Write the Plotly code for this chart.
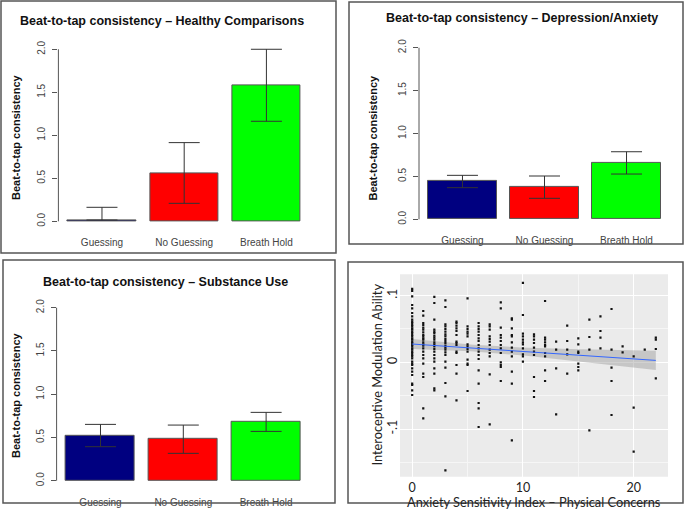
import numpy as np
import plotly.graph_objects as go

# ---------------- data ----------------
conditions = ["Guessing", "No Guessing", "Breath Hold"]
bar_colors = ["#000080", "#FF0000", "#00FF00"]

hc_mean = [0.015, 0.558, 1.581]
hc_err_plus = [0.148, 0.357, 0.419]
hc_err_minus = [0.0, 0.349, 0.418]

da_mean = [0.447, 0.373, 0.656]
da_err_plus = [0.066, 0.132, 0.132]
da_err_minus = [0.078, 0.128, 0.128]

su_mean = [0.520, 0.489, 0.682]
su_err_plus = [0.131, 0.154, 0.108]
su_err_minus = [0.127, 0.173, 0.112]

bar_y_ticks = [0.0, 0.5, 1.0, 1.5, 2.0]
bar_y_ticktext = ["0.0", "0.5", "1.0", "1.5", "2.0"]

asi_levels = list(range(23))
ima_by_level = [
    [0.11, 0.107, 0.099, 0.086, 0.081, 0.074, 0.069, 0.064, 0.061, 0.059, 0.056, 0.054, 0.051, 0.049,
     0.046, 0.044, 0.041, 0.039, 0.036, 0.034, 0.031, 0.029, 0.026, 0.024, 0.021, 0.019, 0.016, 0.014,
     0.011, 0.009, 0.006, 0.001, -0.002, -0.004, -0.009, -0.014, -0.019, -0.032, -0.034, -0.042, -0.049],
    [0.077, 0.07, 0.059, 0.056, 0.052, 0.049, 0.045, 0.041, 0.039, 0.036, 0.034, 0.03, 0.027, 0.025,
     0.021, 0.016, 0.011, 0.006, -0.002, -0.017, -0.022, -0.069, -0.084],
    [0.098, 0.089, 0.064, 0.049, 0.046, 0.044, 0.04, 0.037, 0.034, 0.03, 0.027, 0.024, 0.02, 0.016,
     0.011, 0.006, 0.001, -0.009, -0.017, -0.039, -0.042],
    [0.093, 0.083, 0.057, 0.054, 0.05, 0.046, 0.042, 0.039, 0.035, 0.032, 0.029, 0.025, 0.022, 0.019,
     0.015, 0.011, 0.001, -0.008, -0.031, -0.051, -0.162],
    [0.061, 0.059, 0.055, 0.051, 0.047, 0.041, 0.031, 0.029, 0.026, 0.016, 0.014, -0.004, -0.017, -0.057],
    [0.096, 0.054, 0.05, 0.046, 0.043, 0.039, 0.027, 0.024, 0.02, 0.016, 0.004, -0.002, -0.004, -0.043],
    [0.059, 0.054, 0.05, 0.046, 0.041, 0.036, 0.032, 0.026, 0.021, 0.016, 0.011, 0.005, -0.012, -0.032,
     -0.061, -0.069, -0.097],
    [0.057, 0.054, 0.049, 0.039, 0.035, 0.031, 0.026, 0.019, 0.014, 0.009, -0.018, -0.093],
    [0.09, 0.081, 0.052, 0.041, 0.037, 0.032, 0.026, 0.021, 0.014, 0.0, -0.004, -0.007, -0.028],
    [0.066, 0.064, 0.051, 0.041, 0.039, 0.03, 0.022, 0.016, 0.009, -0.014, -0.032, -0.117],
    [0.119, 0.071, 0.043, 0.039, 0.034, 0.03, 0.027, 0.021, 0.012, 0.009, 0.001],
    [0.042, 0.039, 0.034, 0.029, 0.022, 0.016, 0.011, -0.022, -0.043, -0.052],
    [0.092, 0.037, 0.034, 0.03, 0.026, 0.024, 0.014, 0.009, -0.012, -0.028],
    [0.031, 0.019, -0.009, -0.078],
    [0.055, 0.032, 0.019, 0.012, -0.017],
    [0.036, 0.027, 0.016, 0.014, -0.002, -0.007, -0.012],
    [0.064, 0.038, 0.019, -0.102],
    [0.069, 0.047, 0.037, 0.021],
    [0.08, 0.019, -0.008, -0.028, -0.079],
    [0.024, 0.015],
    [0.009, -0.068, -0.134],
    [0.019],
    [0.037, 0.034, 0.02, -0.024],
]
scatter_ticks_y = [-0.1, 0.0, 0.1]
scatter_ticktext_y = ["-.1", "0", ".1"]
scatter_ticks_x = [0, 10, 20]

# ---------------- helpers ----------------
W, H = 685, 514
def px_x(p):
    return p / W
def px_y(p):
    return 1 - p / H

bar_font = "Liberation Sans, Arial, sans-serif"
gg_font = "Lato, Open Sans, sans-serif"
bar_pos = [0.7, 1.9, 3.1]

fig = go.Figure()

panels = [
    dict(mean=hc_mean, ep=hc_err_plus, em=hc_err_minus, xa="x", ya="y",
         xd=[px_x(58.4), px_x(310)], yd=[px_y(228.2), px_y(42.4)],
         title="Beat-to-tap consistency \u2013 Healthy Comparisons", tx=162, ty=21.5, ytx=16, yty=137),
    dict(mean=da_mean, ep=da_err_plus, em=da_err_minus, xa="x2", ya="y2",
         xd=[px_x(419), px_x(670)], yd=[px_y(226.2), px_y(40.9)],
         title="Beat-to-tap consistency \u2013 Depression/Anxiety", tx=522, ty=18.5, ytx=372.5, yty=137),
    dict(mean=su_mean, ep=su_err_plus, em=su_err_minus, xa="x3", ya="y3",
         xd=[px_x(56.6), px_x(310)], yd=[px_y(487.6), px_y(300.8)],
         title="Beat-to-tap consistency \u2013 Substance Use", tx=165, ty=281.5, ytx=16, yty=395),
]

annotations = []
shapes = []
layout_axes = {}

for i, p in enumerate(panels):
    fig.add_trace(go.Bar(
        x=bar_pos, y=p["mean"], width=1.0,
        marker=dict(color=bar_colors, line=dict(color="#555555", width=1)),
        error_y=dict(type="data", array=p["ep"], arrayminus=p["em"], symmetric=False,
                     color="#333333", thickness=1, width=15.5),
        xaxis=p["xa"], yaxis=p["ya"], showlegend=False, hoverinfo="skip",
    ))
    xname = "xaxis" if p["xa"] == "x" else "xaxis" + p["xa"][1:]
    yname = "yaxis" if p["ya"] == "y" else "yaxis" + p["ya"][1:]
    layout_axes[xname] = dict(
        domain=p["xd"], range=[0.064, 3.736], anchor=p["ya"], automargin=False,
        tickmode="array", tickvals=bar_pos, ticktext=conditions,
        showgrid=False, zeroline=False, showline=False, ticks="",
        tickfont=dict(family=bar_font, size=10, color="#444444"),
        ticklabelstandoff=7, fixedrange=True,
    )
    layout_axes[yname] = dict(
        domain=p["yd"], range=[-0.08, 2.08], anchor=p["xa"], automargin=False,
        tickmode="array", tickvals=bar_y_ticks, ticktext=bar_y_ticktext,
        tickangle=-90, ticks="outside", ticklen=5, tickcolor="#555555", tickwidth=1,
        showgrid=False, zeroline=False, showline=False,
        tickfont=dict(family=bar_font, size=10, color="#444444"),
        ticklabelstandoff=3, fixedrange=True,
    )
    shapes.append(dict(type="line", xref=p["xa"] + " domain", yref=p["ya"],
                       x0=0, x1=0, y0=bar_y_ticks[0], y1=bar_y_ticks[-1],
                       line=dict(color="#555555", width=1)))
    annotations.append(dict(text="<b>" + p["title"] + "</b>", x=px_x(p["tx"]), y=px_y(p["ty"]),
                            xref="paper", yref="paper", showarrow=False,
                            xanchor="center", yanchor="middle",
                            font=dict(family=bar_font, size=12.5, color="#111111")))
    annotations.append(dict(text="<b>Beat-to-tap consistency</b>", x=px_x(p["ytx"]), y=px_y(p["yty"]),
                            xref="paper", yref="paper", showarrow=False, textangle=-90,
                            xanchor="center", yanchor="middle",
                            font=dict(family=bar_font, size=11, color="#111111")))

# ---------------- scatter panel ----------------
sx = np.array([lvl for lvl, ys in zip(asi_levels, ima_by_level) for _ in ys], dtype=float)
sy = np.array([v for ys in ima_by_level for v in ys], dtype=float)

# linear fit with 95% confidence band (geom_smooth(method="lm"))
n = len(sx)
b1, b0 = np.polyfit(sx, sy, 1)
xs = np.linspace(sx.min(), sx.max(), 80)
yhat = b0 + b1 * xs
resid = sy - (b0 + b1 * sx)
s = np.sqrt(np.sum(resid ** 2) / (n - 2))
se = s * np.sqrt(1 / n + (xs - sx.mean()) ** 2 / np.sum((sx - sx.mean()) ** 2))
tcrit = 1.97
lo, hi = yhat - tcrit * se, yhat + tcrit * se

fig.add_trace(go.Scatter(x=np.concatenate([xs, xs[::-1]]), y=np.concatenate([hi, lo[::-1]]),
                         fill="toself", fillcolor="rgba(153,153,153,0.45)", line=dict(width=0),
                         mode="lines", xaxis="x4", yaxis="y4", showlegend=False, hoverinfo="skip"))
fig.add_trace(go.Scatter(x=sx, y=sy, mode="markers",
                         marker=dict(color="#111111", size=2.2, symbol="square"),
                         xaxis="x4", yaxis="y4", showlegend=False, hoverinfo="skip"))
fig.add_trace(go.Scatter(x=xs, y=yhat, mode="lines", line=dict(color="#3366FF", width=1),
                         xaxis="x4", yaxis="y4", showlegend=False, hoverinfo="skip"))

layout_axes["xaxis4"] = dict(
    domain=[px_x(400), px_x(668)], range=[-1.1, 23.1], anchor="y4", automargin=False,
    tickmode="array", tickvals=scatter_ticks_x,
    showgrid=True, gridcolor="#FFFFFF", gridwidth=1.1, zeroline=False, showline=False, ticks="",
    minor=dict(tickvals=[5, 15], showgrid=True, gridcolor="#F6F6F6", gridwidth=0.6),
    tickfont=dict(family=gg_font, size=12.5, color="#222222"), ticklabelstandoff=2,
    fixedrange=True,
)
layout_axes["yaxis4"] = dict(
    domain=[px_y(476.7), px_y(274.3)], range=[-0.1715, 0.132], anchor="x4", automargin=False,
    tickmode="array", tickvals=scatter_ticks_y, ticktext=scatter_ticktext_y, tickangle=-90,
    showgrid=True, gridcolor="#FFFFFF", gridwidth=1.1, zeroline=False, showline=False, ticks="",
    minor=dict(tickvals=[-0.15, -0.05, 0.05], showgrid=True, gridcolor="#F6F6F6", gridwidth=0.6),
    tickfont=dict(family=gg_font, size=12.5, color="#222222"), ticklabelstandoff=0,
    fixedrange=True,
)
annotations.append(dict(text="Anxiety Sensitivity Index \u2013 Physical Concerns",
                        x=px_x(534), y=px_y(501.5), xref="paper", yref="paper", showarrow=False,
                        xanchor="center", yanchor="middle",
                        font=dict(family=gg_font, size=12.8, color="#222222")))
annotations.append(dict(text="Interoceptive Modulation Ability",
                        x=px_x(376.5), y=px_y(375), xref="paper", yref="paper", showarrow=False,
                        textangle=-90, xanchor="center", yanchor="middle",
                        font=dict(family=gg_font, size=12.8, color="#222222")))
shapes.append(dict(type="rect", xref="x4 domain", yref="y4 domain", x0=0, x1=1, y0=0, y1=1,
                   fillcolor="#EBEBEB", line=dict(width=0), layer="below"))

# panel borders
for (x0, y0, x1, y1) in [(1, 1, 336, 253), (349, 2, 683, 244), (3, 260, 335, 503), (348, 262, 683, 503)]:
    shapes.append(dict(type="rect", xref="paper", yref="paper",
                       x0=px_x(x0), x1=px_x(x1), y0=px_y(y1), y1=px_y(y0),
                       line=dict(color="#555555", width=1.5), fillcolor="rgba(0,0,0,0)"))

fig.update_layout(
    width=W, height=H, margin=dict(l=0, r=0, t=0, b=0, autoexpand=False),
    paper_bgcolor="white", plot_bgcolor="rgba(0,0,0,0)",
    shapes=shapes, annotations=annotations, bargap=0,
    **layout_axes,
)

fig.write_html("out.html", config={"displayModeBar": False},
               post_script="document.body.style.margin='0';document.body.style.padding='0';")
